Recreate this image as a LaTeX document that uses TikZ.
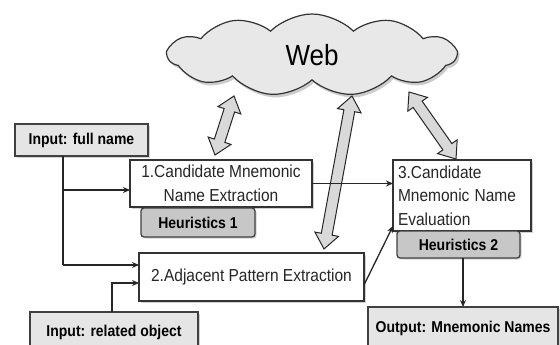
\documentclass[tikz,border=0pt]{standalone}
\usepackage{fontspec}
\setmainfont{Liberation Sans}
\usetikzlibrary{shapes.symbols,shadows,calc,arrows.meta}
\newcommand\tx[1]{\scalebox{1}[1.12]{#1}}
% double block arrow between two named coordinates
\newcommand\webarrow[2]{%
  \path let \p1=(#1), \p2=(#2) in \pgfextra{%
    \pgfmathsetmacro\wang{atan2(\y2-\y1,\x2-\x1)}%
    \pgfmathsetmacro\wlen{veclen(\x2-\x1,\y2-\y1)}%
    \global\let\wang\wang \global\let\wlen\wlen};
  \draw[warrow, shift={(#1)}, rotate=\wang]
    (0,0) -- (15,12) -- (15,5.5) -- (\wlen-15,5.5) -- (\wlen-15,12) -- (\wlen,0)
    -- (\wlen-15,-12) -- (\wlen-15,-5.5) -- (15,-5.5) -- (15,-12) -- cycle;}
\begin{document}
\begin{tikzpicture}[x=1pt,y=-1pt,
  every node/.style={inner sep=0pt, outer sep=0pt},
  line/.style={draw=black!85, line width=1.3pt},
  tip/.style={-{Stealth[length=7pt,width=6pt]}},
  shd/.style={drop shadow={shadow xshift=1.5pt, shadow yshift=-1.5pt, fill=black!35}},
  inbox/.style={draw=black!75, line width=1.4pt, fill=black!10, shd,
    font=\bfseries\fontsize{14}{16}\selectfont},
  procbox/.style={draw=black!80, line width=1.2pt, fill=white, text=black!85, shd,
    font=\fontsize{15.5}{23.5}\selectfont},
  heurbox/.style={draw=black!75, rounded corners=3pt, line width=1.3pt, fill=black!22, shd,
    font=\bfseries\fontsize{14}{16}\selectfont},
  warrow/.style={draw=black!85, line width=1pt, fill=black!15, line join=miter},
  webcloud/.style={cloud, cloud puffs=11, cloud puff arc=90, aspect=3.4, draw=black!80,
    line width=1.2pt, fill=black!9, minimum width=288pt, minimum height=82pt,
    drop shadow={shadow xshift=2pt, shadow yshift=-3pt, fill=black!40},
    font=\fontsize{26}{30}\selectfont}
]
\useasboundingbox (0,0) rectangle (560,345);
\clip (0,0) rectangle (560,345);

% cloud
\node[webcloud] (web) at (312,55) {\tx{Web}};

% boxes
\node[inbox, minimum width=133pt, minimum height=32pt] (in1) at (81.5,140) {\tx{Input: full name}};
\node[procbox, minimum width=182pt, minimum height=47pt, align=center] (box1) at (221,183.5)
  {\tx{1.Candidate Mnemonic}\\\tx{Name Extraction}};
\node[heurbox, minimum width=114pt, minimum height=29pt] (h1) at (198,222.5) {\tx{Heuristics 1}};
\node[procbox, minimum width=138pt, minimum height=71pt, text width=128pt, align=left] (box3) at (462,195.5)
  {\tx{3.Candidate}\\\tx{Mnemonic Name}\\\tx{Evaluation}};
\node[heurbox, minimum width=123pt, minimum height=27pt] (h2) at (458.5,244.5) {\tx{Heuristics 2}};
\node[procbox, minimum width=225pt, minimum height=48pt] (box2) at (251.5,277) {\tx{2.Adjacent Pattern Extraction}};
\node[inbox, minimum width=168pt, minimum height=40pt] (in2) at (114,332) {\tx{Input: related object}};
\node[inbox, minimum width=190pt, minimum height=42pt] (out) at (463,328) {\tx{Output: Mnemonic Names}};

% web arrows
\coordinate (a1s) at (234,96);  \coordinate (a1e) at (215,155);
\coordinate (a2s) at (352,96);  \coordinate (a2e) at (324,249);
\coordinate (a3s) at (409,92);  \coordinate (a3e) at (456,159);
\webarrow{a1s}{a1e}
\webarrow{a2s}{a2e}
\webarrow{a3s}{a3e}

% connectors
\coordinate (j1) at (63,190);
\coordinate (j2) at (63,265);
\draw[line] (in1.south -| j1) -- (j2);
\draw[line,tip] (j2) -- (box2.west |- j2);
\draw[line,tip] (j1) -- (box1.west |- j1);
\coordinate (k1) at (112,283);
\draw[line,tip] (in2.north -| k1) -- (k1) -- (box2.west |- k1);
\draw[line,tip] (box1.east) -- (box3.west |- box1.east);
\coordinate (m1) at (364,285);
\coordinate (m2) at (393,226);
\draw[line,tip] (box2.east |- m1) -- (box3.west |- m2);
\draw[line,tip] (out.north |- h2.south) -- (out.north);
\end{tikzpicture}
\end{document}
